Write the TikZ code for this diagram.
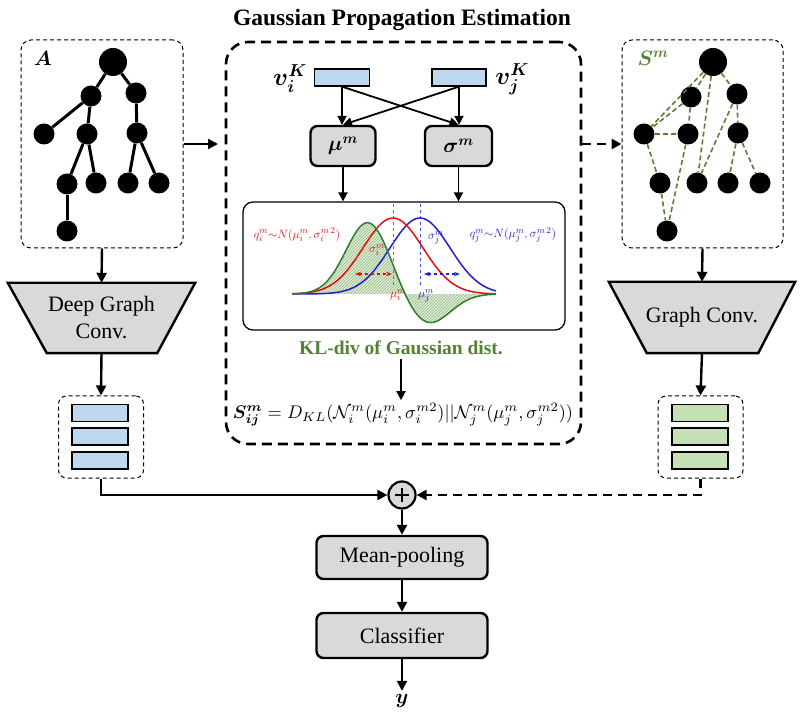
\documentclass[tikz,border=0pt]{standalone}
\usepackage{fontspec}
\setmainfont{Liberation Serif}
\usepackage{amsmath,bm,graphicx}
\usetikzlibrary{arrows.meta,calc,patterns,backgrounds}
\definecolor{boxgray}{HTML}{D9D9D9}
\definecolor{barblue}{HTML}{BDD7EE}
\definecolor{bargreen}{HTML}{C5E0B4}
\definecolor{simgreen}{HTML}{548235}
\definecolor{curvegreen}{HTML}{2E7D32}
\definecolor{greenfill}{HTML}{DDEFD5}
\definecolor{curvered}{HTML}{E01010}
\definecolor{curveblue}{HTML}{2020D0}
\begin{document}
\begin{tikzpicture}[x=1pt,y=-1pt,
  conn/.style={line width=2.4pt,-{Triangle[length=10pt,width=10pt]}},
  thinconn/.style={line width=1.8pt,-{Triangle[length=9pt,width=9pt]}},
  dashconn/.style={conn,dash pattern=on 9pt off 6pt},
  dashedbox/.style={draw,dash pattern=on 4pt off 3pt,line width=1pt,rounded corners=10pt,inner sep=0pt},
  grayblock/.style={draw,fill=boxgray,line width=2.4pt,rounded corners=7pt,inner sep=0pt,font=\fontsize{22}{26}\selectfont},
  featbar/.style={draw,line width=1.3pt,minimum width=56pt,minimum height=17pt,inner sep=0pt},
  treedot/.style={circle,fill=black,inner sep=0pt,minimum size=21pt},
  rootdot/.style={treedot,minimum size=28pt},
  treeedge/.style={line width=3pt},
  simedge/.style={draw=simgreen,line width=1.6pt,dash pattern=on 5pt off 3pt},
  trapfill/.style={fill=boxgray,draw,line width=2.4pt,line join=miter},
  mlabel/.style={inner sep=0.5pt,font=\fontsize{12.5}{14}\selectfont}
]
\useasboundingbox (0,0) rectangle (812,719);

% ---------- title and central dashed box ----------
\node[font=\bfseries\fontsize{23.5}{28}\selectfont] (title) at (402,20) {Gaussian Propagation Estimation};
\node[draw,dash pattern=on 10pt off 6pt,line width=2.6pt,rounded corners=22pt,
      minimum width=355pt,minimum height=402pt,inner sep=0pt] (gpe) at (403.5,243) {};

% ---------- left graph A ----------
\node[dashedbox,minimum width=162pt,minimum height=208pt] (A) at (102,144) {};
\node (Alab) at (43,58) {\fontsize{21}{24}\selectfont$\bm{A}$};
\node[rootdot] (l0) at (113,62) {};
\node[treedot] (l1) at (91,96) {};
\node[treedot] (l2) at (136,93) {};
\node[treedot] (l3) at (44,134) {};
\node[treedot] (l4) at (87,134) {};
\node[treedot] (l5) at (137,133) {};
\node[treedot] (l6) at (67,184) {};
\node[treedot] (l7) at (96,183) {};
\node[treedot] (l8) at (128,183) {};
\node[treedot] (l9) at (159,183) {};
\node[treedot] (l10) at (67,231) {};
\foreach \a/\b in {l0/l1,l0/l2,l1/l3,l1/l4,l2/l5,l4/l6,l4/l7,l5/l8,l5/l9,l6/l10}
  \draw[treeedge] (\a) -- (\b);

% ---------- right graph S^m ----------
\node[dashedbox,minimum width=161pt,minimum height=208pt] (S) at (702.5,144) {};
\node[text=simgreen] (Slab) at (653,58) {\fontsize{21}{24}\selectfont$\bm{S^m}$};
\node[rootdot] (r0) at (713,62) {};
\node[treedot] (r1) at (691,97) {};
\node[treedot] (r2) at (737,94) {};
\node[treedot] (r3) at (644,134) {};
\node[treedot] (r4) at (688,134) {};
\node[treedot] (r5) at (738,133) {};
\node[treedot] (r6) at (660,183) {};
\node[treedot] (r7) at (697,183) {};
\node[treedot] (r8) at (728,183) {};
\node[treedot] (r9) at (760,183) {};
\node[treedot] (r10) at (667,231) {};
\foreach \a/\b in {r0/r3,r0/r1,r0/r7,r0/r2,r1/r3,r1/r4,r3/r4,r2/r7,r2/r5,r3/r6,r6/r10,r4/r10,r5/r8,r5/r9}
  \draw[simedge] (\a) -- (\b);

% ---------- inputs to / output of central box ----------
\coordinate (ain) at (218,144);
\draw[conn] (A.east) -- (ain);
\draw[dashconn] (gpe.east |- S.west) -- (S.west);

% ---------- v, mu, sigma ----------
\node[featbar,fill=barblue,minimum width=55pt] (vi) at (342,77.5) {};
\node[featbar,fill=barblue,minimum width=54pt] (vj) at (459,77.5) {};
\node (vilab) at (290,79) {\fontsize{23}{26}\selectfont$\bm{v}_{\bm{i}}^{\bm{K}}$};
\node (vjlab) at (512,79) {\fontsize{23}{26}\selectfont$\bm{v}_{\bm{j}}^{\bm{K}}$};
\node[grayblock,minimum width=65pt,minimum height=40pt] (mu) at (343,146) {\fontsize{22}{26}\selectfont$\bm{\mu^m}$};
\node[grayblock,minimum width=67pt,minimum height=40pt] (sg) at (458.5,146) {\fontsize{22}{26}\selectfont$\bm{\sigma^m}$};
\draw[thinconn] (vi.south) -- (mu.north -| vi.south);
\draw[thinconn] (vi.south) -- (sg.north);
\draw[thinconn] (vj.south) -- (sg.north -| vj.south);
\draw[thinconn] (vj.south) -- (mu.north);

% ---------- gaussian plot ----------
\node[draw,line width=1.3pt,rounded corners=10pt,minimum width=322pt,minimum height=128pt,inner sep=0pt] (plt) at (404,266) {};
\draw[thinconn] (mu.south) -- (mu.south |- plt.north);
\draw[thinconn] (sg.south) -- (sg.south |- plt.north);

\fill[greenfill] plot[domain=292:496,samples=120] (\x,{294-(72*exp(-0.5*((\x-368)/22)^2)-30*exp(-0.5*((\x-428)/22)^2))}) -- cycle;
\fill[pattern=north east lines,pattern color=simgreen!60] plot[domain=292:496,samples=120] (\x,{294-(72*exp(-0.5*((\x-368)/22)^2)-30*exp(-0.5*((\x-428)/22)^2))}) -- cycle;
\draw[curveblue,line width=1.5pt] plot[domain=292:496,samples=100] (\x,{294-76*exp(-0.5*((\x-420)/30)^2)});
\draw[curvered,line width=1.5pt] plot[domain=292:496,samples=100] (\x,{294-76*exp(-0.5*((\x-393)/30)^2)});
\draw[curvegreen,line width=1.5pt] plot[domain=292:496,samples=120] (\x,{294-(72*exp(-0.5*((\x-368)/22)^2)-30*exp(-0.5*((\x-428)/22)^2))});
\draw[curvered!80,dashed,line width=0.8pt] (393,204) -- (393,287);
\draw[curveblue!80,dashed,line width=0.8pt] (420,204) -- (420,287);
\draw[curvered,dashed,line width=1.2pt,{Stealth[length=6pt]}-{Stealth[length=6pt]}] (355,274) -- (392,274);
\draw[curveblue,dashed,line width=1.2pt,{Stealth[length=6pt]}-{Stealth[length=6pt]}] (424,274) -- (460,274);
\node[mlabel,text=curvered] (qi) at (297,235) {$q_i^m{\sim}N(\mu_i^m,\sigma_i^{m\,2})$};
\node[mlabel,text=curveblue] (qj) at (513,235) {$q_j^m{\sim}N(\mu_j^m,\sigma_j^{m\,2})$};
\node[mlabel,text=curvered] (si) at (377,250) {$\sigma_i^m$};
\node[mlabel,text=curveblue] (sj) at (436,238) {$\sigma_j^m$};
\node[mlabel,text=curvered] (mi) at (398,295) {$\mu_i^m$};
\node[mlabel,text=curveblue] (mj) at (426,296) {$\mu_j^m$};

% ---------- KL text and formula ----------
\node[text=simgreen,font=\bfseries\fontsize{19.5}{23}\selectfont] (kl) at (401,348) {KL-div of Gaussian dist.};
\node (fm) at (403,415) {\resizebox{340pt}{!}{$\bm{S_{ij}^m} = D_{KL}(\mathcal{N}_i^m(\mu_i^m,\sigma_i^{m2})||\mathcal{N}_j^m(\mu_j^m,\sigma_j^{m2}))$}};
\draw[thinconn] (kl.south) -- (kl.south |- fm.north);

% ---------- left branch ----------
\node[minimum width=187pt,minimum height=70pt,inner sep=0pt,align=center,font=\fontsize{22}{27}\selectfont] (dgc) at (101.5,318) {Deep Graph\\Conv.};
\begin{scope}[on background layer]
\draw[trapfill] (dgc.north west) -- (dgc.north east) -- ($(dgc.south east)+(-38,0)$) -- ($(dgc.south west)+(39,0)$) -- cycle;
\end{scope}
\draw[conn] (A.south) -- (dgc.north);
\node[dashedbox,rounded corners=8pt,minimum width=85pt,minimum height=82pt] (lf) at (101,437) {};
\node[featbar,fill=barblue] (lb1) at (100,413) {};
\node[featbar,fill=barblue] (lb2) at (100,436.5) {};
\node[featbar,fill=barblue] (lb3) at (100,460.5) {};
\draw[conn] (dgc.south) -- (lf.north);

% ---------- right branch ----------
\node[minimum width=186pt,minimum height=71pt,inner sep=0pt,font=\fontsize{22}{27}\selectfont] (gc) at (702,317.5) {Graph Conv.};
\begin{scope}[on background layer]
\draw[trapfill] (gc.north west) -- (gc.north east) -- ($(gc.south east)+(-37,0)$) -- ($(gc.south west)+(38,0)$) -- cycle;
\end{scope}
\draw[conn] (S.south) -- (gc.north);
\node[dashedbox,rounded corners=8pt,minimum width=85pt,minimum height=82pt] (rf) at (700.5,437) {};
\node[featbar,fill=bargreen] (rb1) at (700,413) {};
\node[featbar,fill=bargreen] (rb2) at (700,436.5) {};
\node[featbar,fill=bargreen] (rb3) at (700,460.5) {};
\draw[conn] (gc.south) -- (rf.north);

% ---------- fusion and head ----------
\node[circle,draw,line width=2.2pt,fill=boxgray,minimum size=27pt,inner sep=0pt] (plus) at (402,495) {};
\draw[line width=2.6pt] ($(plus)+(-7,0)$) -- ($(plus)+(7,0)$);
\draw[line width=2.6pt] ($(plus)+(0,-7)$) -- ($(plus)+(0,7)$);
\draw[conn] (lf.south) |- (plus.west);
\draw[dashconn] (rf.south) |- (plus.east);
\node[grayblock,minimum width=171pt,minimum height=43pt] (mp) at (402,557.5) {Mean-pooling};
\node[grayblock,minimum width=171pt,minimum height=45pt] (cl) at (402,635.5) {Classifier};
\node (ylab) at (402,701) {\fontsize{21}{24}\selectfont$\bm{y}$};
\draw[conn] (plus.south) -- (mp.north);
\draw[conn] (mp.south) -- (cl.north);
\draw[conn] (cl.south) -- (ylab.north);
\end{tikzpicture}
\end{document}
